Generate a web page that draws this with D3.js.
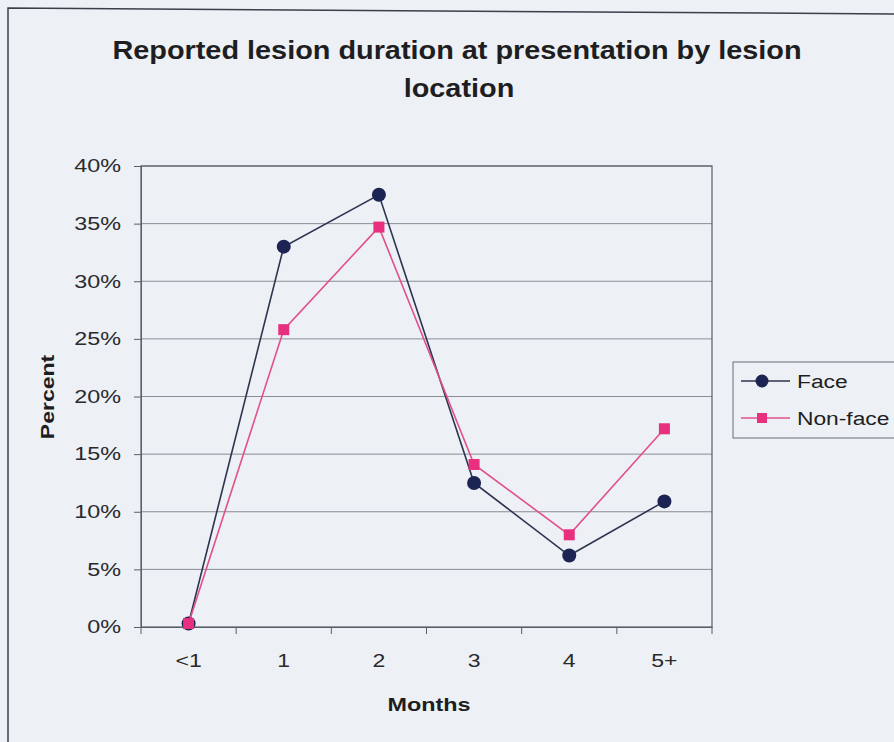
<!DOCTYPE html>
<html>
<head>
<meta charset="utf-8">
<script src="https://cdn.jsdelivr.net/npm/d3@7"></script>
<style>
  body { margin: 0; background: #edf0f4; }
  svg { display: block; font-family: "Liberation Sans", Arial, sans-serif; }
</style>
</head>
<body>
<div id="chart"></div>
<script>
// data
const months = ["<1", "1", "2", "3", "4", "5+"]
const face = [0.3, 33.0, 37.5, 12.5, 6.2, 10.9]
const nonFace = [0.3, 25.8, 34.7, 14.1, 8.0, 17.2]
const yTicks = [0, 5, 10, 15, 20, 25, 30, 35, 40]

const width = 894, height = 742
const margin = {left: 141, right: 182, top: 166, bottom: 115}
const plot_w = width - margin.left - margin.right
const plot_h = height - margin.top - margin.bottom

// the text in the picture is wider than Arial, so stretch it along x
function stretch(sel, s) {
    sel.each(function() {
        let t = d3.select(this)
        let tx = +t.attr("x") || 0
        t.attr("transform", `translate(${tx * (1 - s)},0) scale(${s},1)`)
    })
}

let svg = d3.select("#chart")
    .append("svg")
    .attr("width", width)
    .attr("height", height)

svg.append("rect")
    .attr("width", width).attr("height", height)
    .attr("fill", "#edf0f4")

// outer chart frame (only left and top edges show)
svg.append("path")
    .attr("d", `M8,${height} L8,8 L${width},14`)
    .attr("fill", "none")
    .attr("stroke", "#3a3f4a")
    .attr("stroke-width", 1.5)

let title = svg.append("g")
title.append("text")
    .attr("x", 457).attr("y", 59)
    .text("Reported lesion duration at presentation by lesion")
title.append("text")
    .attr("x", 459).attr("y", 97)
    .text("location")
title.selectAll("text")
    .attr("text-anchor", "middle")
    .style("font-size", "26px")
    .style("font-weight", "bold")
    .attr("fill", "#1e1e22")
    .call(stretch, 1.11)

let g = svg.append("g")
    .attr("transform", `translate(${margin.left}, ${margin.top})`)

let x = d3.scaleBand().domain(months).range([0, plot_w])
let y = d3.scaleLinear().domain([0, 40]).range([plot_h, 0])

// gridlines
g.append("g")
    .selectAll("line")
    .data(yTicks.slice(1))
    .enter()
    .append("line")
    .attr("x1", 0).attr("x2", plot_w)
    .attr("y1", d => y(d)).attr("y2", d => y(d))
    .attr("stroke", "#8a8d94")
    .attr("stroke-width", 1)

g.append("rect")
    .attr("width", plot_w).attr("height", plot_h)
    .attr("fill", "none")
    .attr("stroke", "#5a5e66")
    .attr("stroke-width", 1.2)

let yAxis = g.append("g")
    .call(d3.axisLeft(y).tickValues(yTicks).tickFormat(d => d + "%").tickSize(7).tickPadding(13))
yAxis.select(".domain").attr("stroke", "#5a5e66")
yAxis.selectAll(".tick line").attr("stroke", "#5a5e66")
yAxis.selectAll("text")
    .style("font-size", "18px")
    .attr("fill", "#2a2a2e")
    .call(stretch, 1.3)

let xAxis = g.append("g")
    .attr("transform", `translate(0, ${plot_h})`)
    .call(d3.axisBottom(x).tickSize(0).tickPadding(27))
xAxis.select(".domain").attr("stroke", "#5a5e66")
xAxis.selectAll("text")
    .style("font-size", "18px")
    .attr("fill", "#2a2a2e")
    .call(stretch, 1.28)

// ticks between categories
let edges = [0].concat(months.slice(1).map(d => x(d)), [plot_w])
g.append("g")
    .selectAll("line")
    .data(edges)
    .enter()
    .append("line")
    .attr("x1", d => d).attr("x2", d => d)
    .attr("y1", plot_h).attr("y2", plot_h + 7)
    .attr("stroke", "#5a5e66")

svg.append("text")
    .attr("x", 429).attr("y", 711)
    .attr("text-anchor", "middle")
    .style("font-size", "18px")
    .style("font-weight", "bold")
    .attr("fill", "#1e1e22")
    .text("Months")
    .call(stretch, 1.3)

let yTitle = svg.append("g").attr("transform", "translate(54, 397) rotate(-90)")
yTitle.append("text")
    .attr("text-anchor", "middle")
    .style("font-size", "18px")
    .style("font-weight", "bold")
    .attr("fill", "#1e1e22")
    .text("Percent")
    .call(stretch, 1.28)

let cx = d => x(d) + x.bandwidth() / 2
let line = d3.line()
    .x((d, i) => cx(months[i]))
    .y(d => y(d))

const faceColor = "#1b2452"
const faceLine = "#2c3550"
const pinkColor = "#e8307f"
const pinkLine = "#e2508c"

g.append("path")
    .datum(face)
    .attr("d", line)
    .attr("fill", "none")
    .attr("stroke", faceLine)
    .attr("stroke-width", 1.6)

g.selectAll(".faceDot")
    .data(face)
    .enter()
    .append("circle")
    .attr("class", "faceDot")
    .attr("cx", (d, i) => cx(months[i]))
    .attr("cy", d => y(d))
    .attr("r", 7)
    .attr("fill", faceColor)

g.append("path")
    .datum(nonFace)
    .attr("d", line)
    .attr("fill", "none")
    .attr("stroke", pinkLine)
    .attr("stroke-width", 1.6)

g.selectAll(".nfDot")
    .data(nonFace)
    .enter()
    .append("rect")
    .attr("class", "nfDot")
    .attr("x", (d, i) => cx(months[i]) - 5.5)
    .attr("y", d => y(d) - 5.5)
    .attr("width", 11).attr("height", 11)
    .attr("fill", pinkColor)

// legend
let legend = svg.append("g").attr("transform", "translate(733, 362)")
legend.append("rect")
    .attr("width", 175).attr("height", 76)
    .attr("fill", "#edf0f4")
    .attr("stroke", "#6a6e76")
legend.append("line")
    .attr("x1", 8).attr("x2", 57).attr("y1", 19).attr("y2", 19)
    .attr("stroke", faceLine).attr("stroke-width", 1.6)
legend.append("circle")
    .attr("cx", 29).attr("cy", 19).attr("r", 6.5)
    .attr("fill", faceColor)
legend.append("line")
    .attr("x1", 8).attr("x2", 57).attr("y1", 56).attr("y2", 56)
    .attr("stroke", pinkLine).attr("stroke-width", 1.6)
legend.append("rect")
    .attr("x", 24).attr("y", 51).attr("width", 10).attr("height", 10)
    .attr("fill", pinkColor)
legend.append("text")
    .attr("x", 64).attr("y", 26)
    .text("Face")
legend.append("text")
    .attr("x", 64).attr("y", 63)
    .text("Non-face")
legend.selectAll("text")
    .style("font-size", "19px")
    .attr("fill", "#1e1e22")
    .call(stretch, 1.2)
</script>
</body>
</html>
